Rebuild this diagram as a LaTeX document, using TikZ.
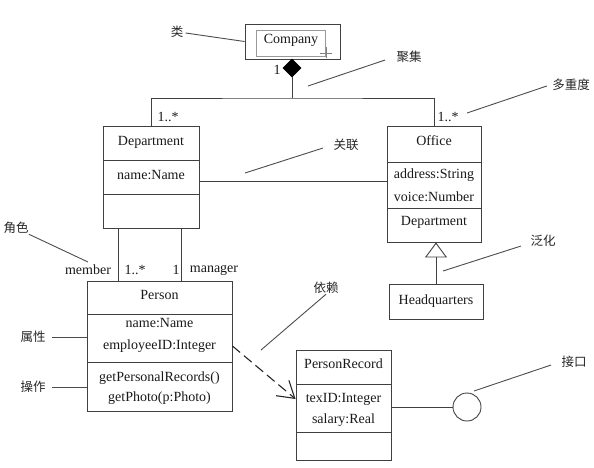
\documentclass[tikz,border=0pt]{standalone}
\usepackage{fontspec}
\setmainfont{Liberation Serif}
\newfontfamily\cjk{Noto Sans CJK SC}
\usetikzlibrary{calc,shapes.geometric,arrows.meta}
\tikzset{
	umlbox/.style={draw=black!75, line width=0.9pt, rectangle, inner sep=0pt},
	txt/.style={inner sep=0pt, text=black!90, font=\fontsize{14}{16}\selectfont},
	note/.style={inner sep=0pt, text=black!85, font=\cjk\fontsize{12.5}{14}\selectfont},
	pointer/.style={draw=black!70, line width=0.9pt},
}
\def\divider(#1:#2:#3){\draw[line width=0.9pt, color=black!75] (#1,#3) -- (#2,#3);}

\begin{document}
\begin{tikzpicture}[x=1pt, y=-1pt, line width=0.9pt, color=black!75]
		%%%%% START %%%%%
		\useasboundingbox (0,0) rectangle (594,467);
		
		% Company
		\node[umlbox, minimum width=95pt, minimum height=35pt] (company) at (292.5,41.5) {};
		\node[draw=black!40, line width=0.5pt, inner sep=0pt, minimum width=69pt, minimum height=26pt] (companyin) at (290.5,43) {};
		\node[txt] (companyname) at (291,40) {Company};
		\draw[line width=0.6pt, color=black!50] (320,53) -- (332,53);
		\draw[line width=0.6pt, color=black!50] (326,47) -- (326,58);
		
		\node[diamond, fill=black, draw=black, inner sep=0pt, minimum width=18pt, minimum height=18pt] (agg) at (292,68) {};
		\node[txt] (aggone) at (277,70) {1};
		
		% Department
		\node[umlbox, minimum width=96pt, minimum height=102pt] (dept) at (151,177) {};
		\node[txt] (deptname) at (151,142) {Department};
		\node[txt] (deptattr) at (151,175) {name:Name};
		\divider(103:199:160)
		\divider(103:199:194)
		
		% Office
		\node[umlbox, minimum width=94pt, minimum height=116pt] (office) at (434,184) {};
		\node[txt] (officename) at (434,141) {Office};
		\node[txt] (officeaddr) at (434,175) {address:String};
		\node[txt] (officevoice) at (434,197) {voice:Number};
		\node[txt] (officedept) at (434,222) {Department};
		\divider(387:481:162)
		\divider(387:481:208)
		
		\coordinate (join) at (292,98);
		\draw (agg.south) -- (join);
		\draw (dept.north) |- (join) -| (office.north);
		\node[txt] (deptmul) at (168,117) {1..*};
		\node[txt] (officemul) at (448,117) {1..*};
		
		\coordinate (assoc) at (0,181);
		\draw (dept.east |- assoc) -- (office.west |- assoc);
		
		% Headquarters
		\node[umlbox, txt, minimum width=94pt, minimum height=35pt] (hq) at (436,301.5) {Headquarters};
		\draw[-{Triangle[open, length=15pt, width=22pt]}] (hq.north) -- (hq.north |- office.south);
		
		% Person
		\node[umlbox, minimum width=145pt, minimum height=130pt] (person) at (159.5,346) {};
		\node[txt] (personname) at (159.5,295) {Person};
		\node[txt] (personattra) at (159.5,323) {name:Name};
		\node[txt] (personattrb) at (159.5,346) {employeeID:Integer};
		\node[txt] (personopa) at (159.5,378) {getPersonalRecords()};
		\node[txt] (personopb) at (159.5,398) {getPhoto(p:Photo)};
		\divider(87:232:314)
		\divider(87:232:362)
		
		\draw ($(dept.south west)+(16,0)$) -- ($(person.north west)+(32,0)$);
		\draw ($(dept.south west)+(79,0)$) -- ($(person.north west)+(95,0)$);
		\node[txt] (member) at (88,270) {member};
		\node[txt] (membermul) at (135,270) {1..*};
		\node[txt] (managermul) at (176,270) {1};
		\node[txt] (manager) at (214,270) {manager};
		
		% PersonRecord
		\node[umlbox, minimum width=95pt, minimum height=110pt] (prec) at (343.5,405) {};
		\node[txt] (precname) at (343.5,364) {PersonRecord};
		\node[txt] (precid) at (343.5,399) {texID:Integer};
		\node[txt] (precsal) at (343.5,420) {salary:Real};
		\divider(296:391:384)
		\divider(296:391:432)
		
		\draw[color=black!85, line width=1.1pt, dash pattern=on 10pt off 5pt, -{Straight Barb[length=16pt, width=20pt]}] (person.east |- personattrb) -- (prec.west |- precid);
		
		\node[circle, draw, minimum size=28pt, inner sep=0pt] (iface) at (467,407) {};
		\draw (prec.east |- iface) -- (iface.west);
		
		% notes
		\node[note] (lclass) at (177,32) {类};
		\draw[pointer] ($(lclass.east)+(2,1)$) -- (company.west);
		\node[note] (lagg) at (409,57) {聚集};
		\coordinate (laggend) at (308,86);
		\draw[pointer] ($(lagg.west)+(-11,3)$) -- (laggend);
		\node[note] (lmul) at (571,85) {多重度};
		\coordinate (lmulend) at (467,113);
		\draw[pointer] ($(lmul.west)+(-5,1)$) -- (lmulend);
		\node[note] (lassoc) at (346,145) {关联};
		\coordinate (lassocend) at (245,173);
		\draw[pointer] ($(lassoc.west)+(-10,3)$) -- (lassocend);
		\node[note] (lgen) at (543,241) {泛化};
		\coordinate (lgenend) at (443,271);
		\draw[pointer] ($(lgen.west)+(-9,5)$) -- (lgenend);
		\node[note] (lrole) at (16,228) {角色};
		\coordinate (lroleend) at (88,262);
		\draw[pointer] (lrole.south east) -- (lroleend);
		\node[note] (lattr) at (33,337) {属性};
		\draw[pointer] ($(lattr.east)+(6,0)$) -- (person.west |- lattr);
		\node[note] (lop) at (33,387) {操作};
		\draw[pointer] ($(lop.east)+(6,0)$) -- (person.west |- lop);
		\node[note] (ldep) at (326,288) {依赖};
		\coordinate (ldepend) at (261,350);
		\draw[pointer] (ldep.south) -- (ldepend);
		\node[note] (liface) at (574,362) {接口};
		\coordinate (lifaceend) at (474,391);
		\draw[pointer] ($(liface.west)+(-10,3)$) -- (lifaceend);
		
		%%%%% END %%%%%
\end{tikzpicture}
\end{document}
